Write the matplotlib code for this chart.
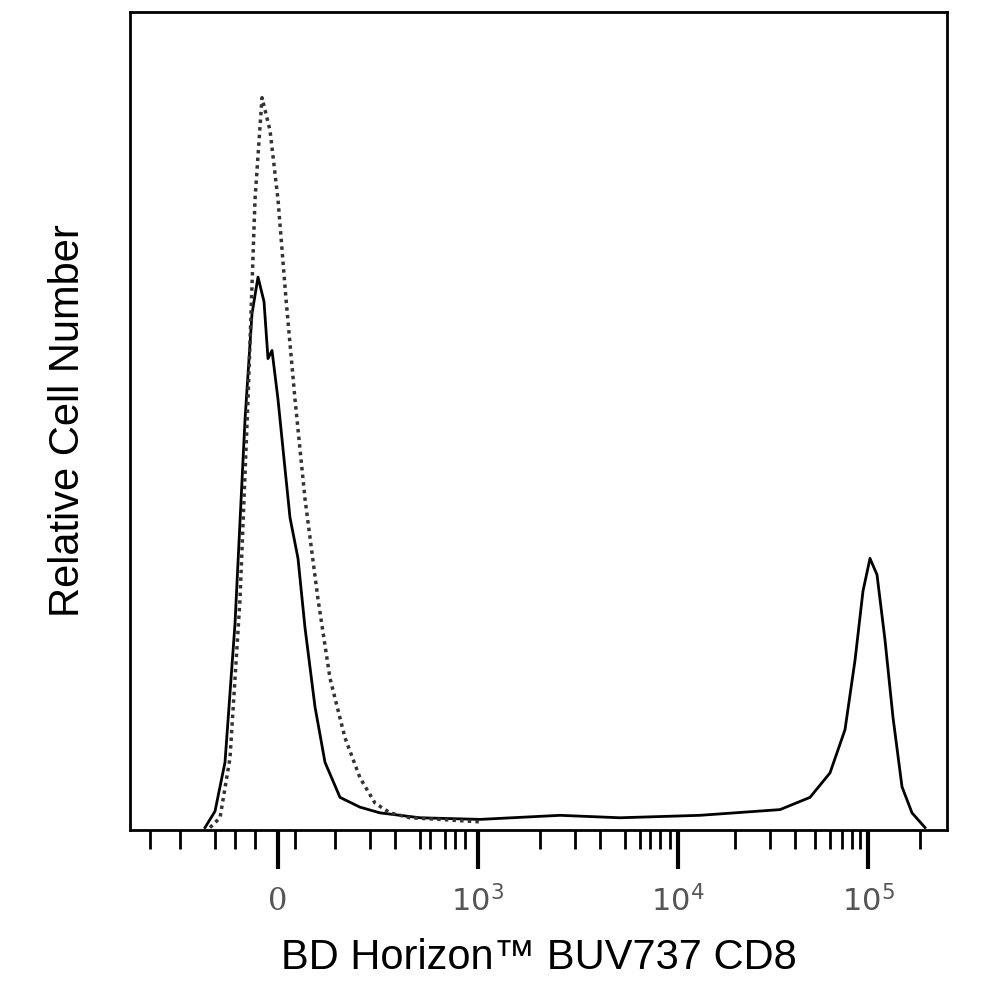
import matplotlib
matplotlib.use("Agg")
import matplotlib.pyplot as plt
import numpy as np

# x in channel units (logicle display scale), y relative count
solid_x = [205, 215, 225, 235, 245, 252, 258, 264, 268, 272, 278, 285, 290, 298, 305, 315, 325, 340, 360, 380,
           420, 480, 560, 620, 700, 780, 810, 830, 845, 855, 863, 870, 877, 885, 893, 902, 912, 925]
solid_y = [0.0, 0.02, 0.08, 0.25, 0.50, 0.63, 0.675, 0.645, 0.575, 0.585, 0.525, 0.44, 0.38, 0.33, 0.245, 0.148,
           0.08, 0.037, 0.025, 0.018, 0.012, 0.01, 0.015, 0.012, 0.015, 0.022, 0.037, 0.067, 0.12, 0.205, 0.29,
           0.33, 0.31, 0.23, 0.135, 0.05, 0.018, 0.0]
dot_x = [210, 220, 230, 240, 248, 255, 262, 270, 278, 286, 295, 305, 318, 330, 345, 360, 375, 390, 410, 440, 480]
dot_y = [0.0, 0.012, 0.085, 0.28, 0.525, 0.77, 0.895, 0.855, 0.77, 0.648, 0.525, 0.403, 0.28, 0.183, 0.11,
         0.061, 0.03, 0.018, 0.012, 0.01, 0.007]

major_pos = [278, 478, 678, 868]
major_lab = ["0", r"$10^3$", r"$10^4$", r"$10^5$"]
minor_pos = [150, 180, 215, 235, 255, 295, 335, 370, 395, 420, 430, 445, 455, 465, 540, 575, 600, 625, 640,
             650, 660, 670, 735, 770, 795, 815, 830, 842, 852, 860, 920]

fig = plt.figure(figsize=(10.05, 10.05), dpi=100)
ax = fig.add_axes([130 / 1005, 1 - 830 / 1005, 817 / 1005, 818 / 1005])
ax.plot(solid_x, solid_y, color="black", lw=2)
ax.plot(dot_x, dot_y, color="#333333", lw=2.5, ls=(0, (1, 1.2)))
ax.set_xlim(130, 947)
ax.set_ylim(-0.003, 1.0)
ax.set_yticks([])
ax.set_xticks(major_pos)
ax.set_xticklabels(major_lab, fontsize=22, color="#555555", fontfamily="DejaVu Serif")
ax.set_xticks(minor_pos, minor=True)
ax.tick_params(axis="x", which="major", length=28, width=3, pad=12)
ax.tick_params(axis="x", which="minor", length=14, width=2)
for s in ax.spines.values():
    s.set_linewidth(2)
ax.set_xlabel("BD Horizon™ BUV737 CD8", fontsize=30, fontfamily="Liberation Sans", labelpad=14)
ax.set_ylabel("Relative Cell Number", fontsize=30, fontfamily="Liberation Sans", labelpad=30)
fig.savefig("out.png", dpi=100)
